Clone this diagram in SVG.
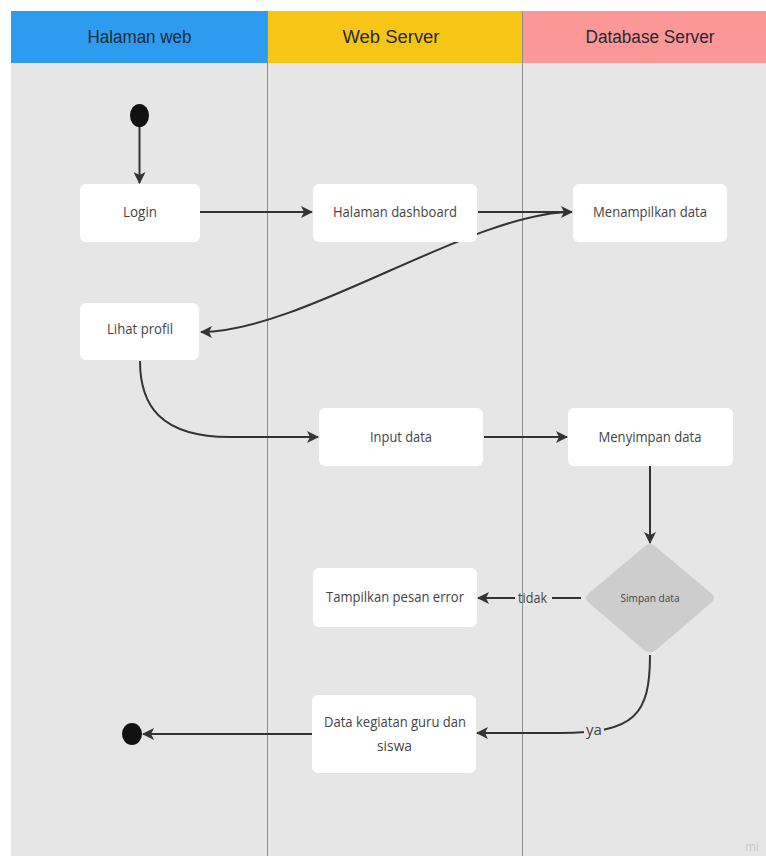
<svg xmlns="http://www.w3.org/2000/svg" width="766" height="856" viewBox="0 0 766 856">
<defs>
<marker id="arr" viewBox="0 0 12 12" refX="11" refY="6" markerWidth="12" markerHeight="12" markerUnits="userSpaceOnUse" orient="auto">
<path d="M0,0 L12,6 L0,12 L3,6 Z" fill="#333"/>
</marker>
<style>
.hdr{font-family:"Liberation Sans",Arial,sans-serif;font-size:18px;fill:#1f2a33;text-anchor:middle}
.node rect{fill:#fff;stroke:none}
.lbl{font-family:"Open Sans","Noto Sans",sans-serif;font-size:15px;fill:#444;text-anchor:middle}
.sm{font-size:11.5px}
.con{fill:none;stroke:#333;stroke-width:2}
.div{stroke:#8c8c8c;stroke-width:1}
</style>
</defs>
<rect x="0" y="0" width="766" height="856" fill="#fff"/>
<g id="lanes">
<rect x="11" y="63" width="755" height="793" fill="#e6e6e6"/>
<rect x="11" y="11" width="257" height="52" fill="#2d9bf0"/>
<rect x="268" y="11" width="255" height="52" fill="#f7c515"/>
<rect x="523" y="11" width="243" height="52" fill="#fd9696"/>
<line class="div" x1="267.5" y1="11" x2="267.5" y2="856"/>
<line class="div" x1="522.5" y1="11" x2="522.5" y2="856"/>
<text class="hdr" x="139.5" y="43" textLength="104" lengthAdjust="spacingAndGlyphs">Halaman web</text>
<text class="hdr" x="391" y="43" textLength="97" lengthAdjust="spacingAndGlyphs">Web Server</text>
<text class="hdr" x="650" y="43" textLength="129" lengthAdjust="spacingAndGlyphs">Database Server</text>
</g>
<g id="connectors">
<line class="con" x1="139.5" y1="127" x2="139.5" y2="183" marker-end="url(#arr)"/>
<line class="con" x1="200" y1="212" x2="312" y2="212" marker-end="url(#arr)"/>
<line class="con" x1="478" y1="212" x2="572" y2="212" marker-end="url(#arr)"/>
<path class="con" d="M572,212 C472,212 302,332 201,332" marker-end="url(#arr)"/>
<path class="con" d="M140,361 C140,405 160,437 230,437 L318,437" marker-end="url(#arr)"/>
<line class="con" x1="484" y1="437" x2="567" y2="437" marker-end="url(#arr)"/>
<line class="con" x1="650" y1="466" x2="650" y2="543" marker-end="url(#arr)"/>
<line class="con" x1="581" y1="598" x2="552" y2="598"/>
<line class="con" x1="515" y1="598" x2="478" y2="598" marker-end="url(#arr)"/>
<text class="lbl" x="532.5" y="603" textLength="29" lengthAdjust="spacingAndGlyphs">tidak</text>
<path class="con" d="M650,655 C650,715 635,733 560,733 L477,733" marker-end="url(#arr)"/>
<rect x="584" y="721" width="20" height="18" fill="#e6e6e6"/>
<text class="lbl" x="594" y="735">ya</text>
<line class="con" x1="312" y1="734" x2="143" y2="734" marker-end="url(#arr)"/>
</g>
<g id="start"><ellipse cx="139.5" cy="115.5" rx="9.5" ry="11.5" fill="#111"/></g>
<g id="login" class="node"><rect x="80" y="184" width="120" height="58" rx="6"/><text class="lbl" x="140" y="216.5" textLength="34" lengthAdjust="spacingAndGlyphs">Login</text></g>
<g id="dashboard" class="node"><rect x="313" y="184" width="164" height="58" rx="6"/><text class="lbl" x="395" y="216.5" textLength="124" lengthAdjust="spacingAndGlyphs">Halaman dashboard</text></g>
<g id="menampilkan" class="node"><rect x="573" y="184" width="154" height="58" rx="6"/><text class="lbl" x="650" y="216.5" textLength="114" lengthAdjust="spacingAndGlyphs">Menampilkan data</text></g>
<g id="profil" class="node"><rect x="80" y="303" width="119" height="57" rx="6"/><text class="lbl" x="140" y="334" textLength="66" lengthAdjust="spacingAndGlyphs">Lihat profil</text></g>
<g id="input" class="node"><rect x="319" y="408" width="164" height="58" rx="6"/><text class="lbl" x="401" y="441.5" textLength="62" lengthAdjust="spacingAndGlyphs">Input data</text></g>
<g id="menyimpan" class="node"><rect x="568" y="408" width="165" height="58" rx="6"/><text class="lbl" x="650" y="441.5" textLength="103" lengthAdjust="spacingAndGlyphs">Menyimpan data</text></g>
<g id="simpan"><path d="M650,544 Q653,544 656,547 L712,594 Q716,598 712,602 L656,650 Q650,655 644,650 L588,602 Q584,598 588,594 L644,547 Q647,544 650,544 Z" fill="#cdcdcd"/><text class="lbl sm" x="650" y="602" textLength="59" lengthAdjust="spacingAndGlyphs">Simpan data</text></g>
<g id="error" class="node"><rect x="313" y="568" width="164" height="59" rx="6"/><text class="lbl" x="395" y="602" textLength="138" lengthAdjust="spacingAndGlyphs">Tampilkan pesan error</text></g>
<g id="datakegiatan" class="node"><rect x="312" y="695" width="164" height="78" rx="6"/><text class="lbl" x="395" y="727" textLength="142" lengthAdjust="spacingAndGlyphs">Data kegiatan guru dan</text><text class="lbl" x="394.5" y="751" textLength="35" lengthAdjust="spacingAndGlyphs">siswa</text></g>
<g id="end"><ellipse cx="132" cy="734" rx="10" ry="11" fill="#111"/></g>
<text x="745" y="851" font-family="Open Sans, sans-serif" font-size="12" fill="#c8c8c8">mi</text>
</svg>
